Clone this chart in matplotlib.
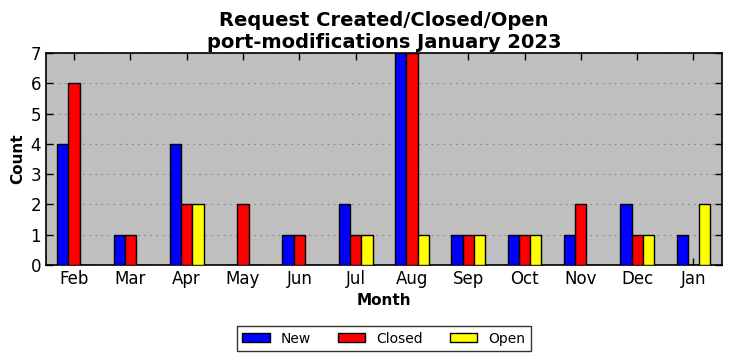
import matplotlib
matplotlib.use("Agg")
import matplotlib.pyplot as plt
import numpy as np

months = ["Feb", "Mar", "Apr", "May", "Jun", "Jul", "Aug", "Sep", "Oct", "Nov", "Dec", "Jan"]
new_vals = [4, 1, 4, 0, 1, 2, 7, 1, 1, 1, 2, 1]
closed_vals = [6, 1, 2, 2, 1, 1, 7, 1, 1, 2, 1, 0]
open_vals = [0, 0, 2, 0, 0, 1, 1, 1, 1, 0, 1, 2]

fig = plt.figure(figsize=(7.32, 3.61), dpi=100)
ax = fig.add_axes([0.0628, 0.266, 0.923, 0.587])
ax.set_facecolor("#bfbfbf")

x = np.arange(len(months))
w = 0.2
ax.bar(x - w, new_vals, w, color="blue", edgecolor="black", linewidth=1, label="New", zorder=3)
ax.bar(x, closed_vals, w, color="red", edgecolor="black", linewidth=1, label="Closed", zorder=3)
ax.bar(x + w, open_vals, w, color="yellow", edgecolor="black", linewidth=1, label="Open", zorder=3)

ax.set_xlim(-0.5, 11.5)
ax.set_ylim(0, 7)
ax.set_xticks(x)
ax.set_xticklabels(months, fontsize=12)
ax.set_yticks(range(0, 8))
ax.tick_params(axis="y", labelsize=12)
ax.tick_params(direction="in", top=True, right=True, length=5, width=1)
ax.yaxis.grid(True, linestyle=(0, (1.5, 4)), color="#888888", linewidth=0.8, zorder=0)
ax.set_axisbelow(True)
for s in ax.spines.values():
    s.set_linewidth(1.2)

ax.set_xlabel("Month", fontsize=11, fontweight="bold")
ax.set_ylabel("Count", fontsize=11, fontweight="bold")
ax.set_title("Request Created/Closed/Open\nport-modifications January 2023", fontsize=14,
             fontweight="bold", linespacing=1.2, pad=4)

leg = ax.legend(loc="upper center", bbox_to_anchor=(0.5, -0.255), ncol=3, fontsize=10,
                frameon=True, fancybox=False, edgecolor="black", handlelength=2.0,
                handleheight=0.6, columnspacing=1.9, borderpad=0.4)
leg.get_frame().set_linewidth(1.0)

fig.savefig("out.png", dpi=100)
